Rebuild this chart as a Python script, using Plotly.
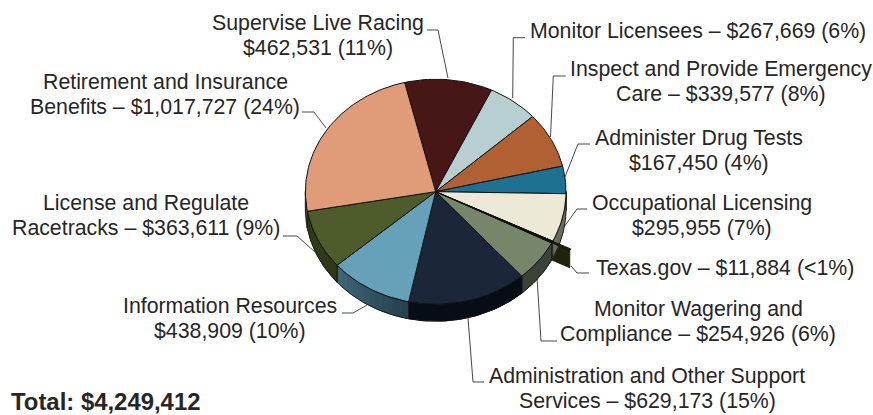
import math
import plotly.graph_objects as go

# ---------- data ----------
categories = ["Supervise Live Racing", "Monitor Licensees", "Inspect and Provide Emergency Care",
              "Administer Drug Tests", "Occupational Licensing", "Texas.gov",
              "Monitor Wagering and Compliance", "Administration and Other Support Services",
              "Information Resources", "License and Regulate Racetracks",
              "Retirement and Insurance Benefits"]
values = [462531, 267669, 339577, 167450, 295955, 11884, 254926, 629173, 438909, 363611, 1017727]
pct_labels = ["11%", "6%", "8%", "4%", "7%", "<1%", "6%", "15%", "10%", "9%", "24%"]
label_lines = ["Supervise Live Racing<br>{v} ({p})",
               "Monitor Licensees – {v} ({p})",
               "Inspect and Provide Emergency<br>Care – {v} ({p})",
               "Administer Drug Tests<br>{v} ({p})",
               "Occupational Licensing<br>{v} ({p})",
               "Texas.gov – {v} ({p})",
               "Monitor Wagering and<br>Compliance – {v} ({p})",
               "Administration and Other Support<br>Services – {v} ({p})",
               "Information Resources<br>{v} ({p})",
               "License and Regulate<br>Racetracks – {v} ({p})",
               "Retirement and Insurance<br>Benefits – {v} ({p})"]
total_label = "Total: $4,249,412"

top_colors = ["#471718", "#b7cfd1", "#b06033", "#1f7191", "#ecead6", "#1f2408",
              "#77856b", "#1b2638", "#65a2b9", "#4e5c2c", "#e09b78"]
wall_left = ["#000000", "#000000", "#000000", "#000000", "#6c6c5c", "#1f2408",
             "#3b4238", "#060d16", "#24404c", "#2f3a14", "#6b4a38"]
wall_right = ["#000000", "#000000", "#000000", "#000000", "#6c6c5c", "#1f2408",
              "#3b4238", "#060d16", "#3e6878", "#2f3a14", "#6b4a38"]

# ---------- layout constants (pixels) ----------
W, H = 873, 415
CX, CY, RX, RY = 435.7, 191.7, 130.3, 112.5
DEPTH = 17 / RY
START = -13.8
EXPLODED = "Texas.gov"
EXPLODE = 0.155
INK = "#111111"
TEXT = "#262626"
FONT = "Liberation Sans, Arial, sans-serif"
SIZE = 21.3
BOLD_SIZE = 23.9
PITCH = 25

label_pos = [(318, 35.2), (698, 30.7), (720.5, 81.2), (698.5, 150.2), (702, 215.2), (725, 267.7),
             (698, 321.2), (647, 388.2), (230, 318.2), (146, 215.2), (165, 94.2)]
leaders = [[(427, 30), (438, 30), (448, 78)],
           [(525, 37.7), (513.3, 37.7), (512.7, 98)],
           [(565.7, 76), (553.3, 76), (550.5, 137)],
           [(590, 144), (578, 144), (565, 177)],
           [(587, 209), (577, 209), (564, 227)],
           [(589, 273), (577, 273), (571, 266)],
           [(557, 341), (541, 341), (537, 277)],
           [(484, 382), (473, 382), (468, 318)],
           [(342, 313), (353, 313), (367, 305)],
           [(283, 236), (297, 236), (315, 252)],
           [(302, 112), (314, 112), (326, 128)]]

# ---------- geometry derived from the values ----------
total = sum(values)
bounds = [START]
for v in values:
    bounds.append(bounds[-1] + v / total * 360)


def pt(a, r=1.0, ox=0.0, oy=0.0, drop=0.0):
    t = math.radians(a)
    return ox + r * math.sin(t), oy + r * math.cos(t) - drop


def arc(a0, a1, **kw):
    n = max(2, int(abs(a1 - a0) / 1.5) + 2)
    return [pt(a0 + (a1 - a0) * i / (n - 1), **kw) for i in range(n)]


def mix(c0, c1, f):
    a = [int(c0[i:i + 2], 16) for i in (1, 3, 5)]
    b = [int(c1[i:i + 2], 16) for i in (1, 3, 5)]
    return "#%02x%02x%02x" % tuple(round(x + (y - x) * f) for x, y in zip(a, b))


def poly(points, fill, line, width, name):
    xs = [p[0] for p in points] + [points[0][0]]
    ys = [p[1] for p in points] + [points[0][1]]
    return go.Scatter(x=xs, y=ys, mode="lines", fill="toself", fillcolor=fill,
                      line=dict(color=line, width=width), name=name,
                      hoverinfo="name", showlegend=False)


fig = go.Figure()

# exploded slice side face (behind the pie's own walls)
i_ex = categories.index(EXPLODED)
mid = (bounds[i_ex] + bounds[i_ex + 1]) / 2
ex_ox, ex_oy = pt(mid, EXPLODE)
a_ex = bounds[i_ex + 1]
edge_in = pt(a_ex)
edge_out = pt(a_ex, ox=ex_ox, oy=ex_oy)
fig.add_trace(poly([edge_in, edge_out, (edge_out[0], edge_out[1] - DEPTH), (edge_in[0], edge_in[1] - DEPTH)],
                   top_colors[i_ex], INK, 0.8, EXPLODED))

# side walls, visible half only
for i, name in enumerate(categories):
    if name == EXPLODED:
        continue
    a0, a1 = max(bounds[i], 90), min(bounds[i + 1], 270)
    if a1 <= a0:
        continue
    steps = 12 if wall_left[i] != wall_right[i] else 1
    for s in range(steps):
        b0 = a0 + (a1 - a0) * s / steps
        b1 = a0 + (a1 - a0) * (s + 1) / steps
        col = mix(wall_left[i], wall_right[i], (s + 0.5) / steps)
        pts = arc(b0, b1) + arc(b1, b0, drop=DEPTH)
        fig.add_trace(poly(pts, col, col, 1.0, name))
    outline = arc(a0, a1) + arc(a1, a0, drop=DEPTH)
    fig.add_trace(go.Scatter(x=[p[0] for p in outline] + [outline[0][0]],
                             y=[p[1] for p in outline] + [outline[0][1]],
                             mode="lines", line=dict(color=INK, width=0.8),
                             hoverinfo="skip", showlegend=False))

# top faces
for i, name in enumerate(categories):
    if name == EXPLODED:
        continue
    pts = [(0, 0)] + arc(bounds[i], bounds[i + 1])
    fig.add_trace(poly(pts, top_colors[i], INK, 1.0, name))
# exploded slice top face last
pts = [(ex_ox, ex_oy)] + arc(bounds[i_ex], bounds[i_ex + 1], ox=ex_ox, oy=ex_oy)
fig.add_trace(poly(pts, top_colors[i_ex], INK, 1.0, EXPLODED))
fig.add_trace(poly([(0, 0), pt(bounds[i_ex]), pt(bounds[i_ex + 1])], INK, INK, 1.0, EXPLODED))

# labels: one annotation per line so the pitch can follow the reference
anns = []
for tmpl, v, p, (lx, ly) in zip(label_lines, values, pct_labels, label_pos):
    txt = tmpl.format(v="$" + format(v, ","), p=p)
    rows = txt.split("<br>")
    for k, row in enumerate(rows):
        y = ly + (k - (len(rows) - 1) / 2) * PITCH
        anns.append(dict(x=lx / W, y=1 - y / H, xref="paper", yref="paper", text=row, showarrow=False,
                         xanchor="center", yanchor="middle", align="center",
                         font=dict(family=FONT, size=SIZE, color=TEXT)))
anns.append(dict(x=9 / W, y=1 - 401.5 / H, xref="paper", yref="paper", text="<b>" + total_label + "</b>",
                 showarrow=False, xanchor="left", yanchor="middle",
                 font=dict(family=FONT, size=BOLD_SIZE, color=TEXT)))

# leader lines
shapes = []
for path in leaders:
    d = "M " + " L ".join(f"{x / W:.5f},{1 - y / H:.5f}" for x, y in path)
    shapes.append(dict(type="path", path=d, xref="paper", yref="paper", layer="below",
                       line=dict(color="#333333", width=0.9)))

fig.update_layout(
    width=W, height=H, margin=dict(l=0, r=0, t=0, b=0),
    paper_bgcolor="white", plot_bgcolor="white", showlegend=False,
    annotations=anns, shapes=shapes,
    xaxis=dict(range=[(0 - CX) / RX, (W - CX) / RX], visible=False, fixedrange=True),
    yaxis=dict(range=[(CY - H) / RY, CY / RY], visible=False, fixedrange=True),
)
fig.write_html("out.html", config=dict(displayModeBar=False),
               post_script="document.body.style.margin='0';")
